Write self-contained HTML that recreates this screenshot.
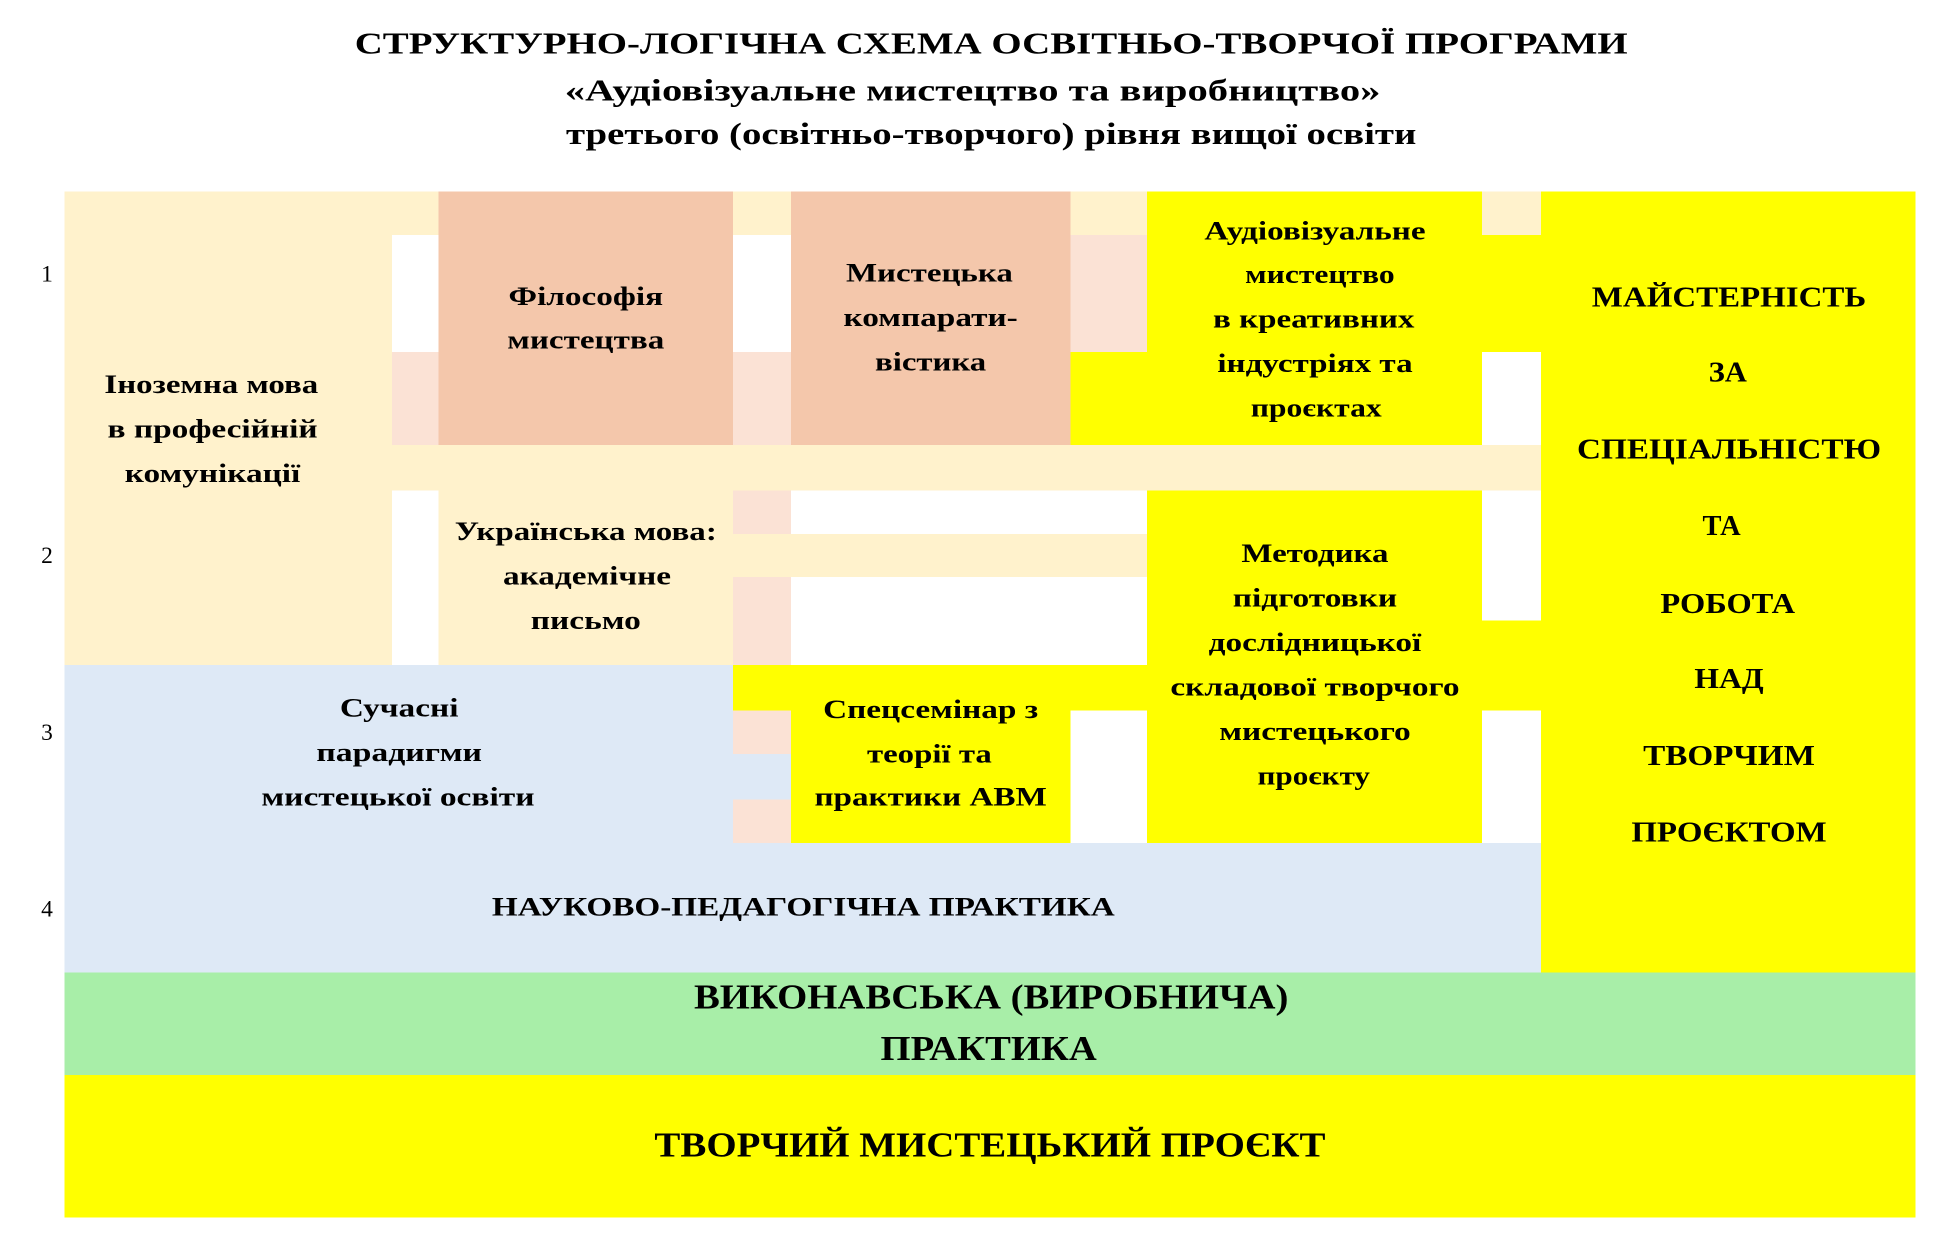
<!DOCTYPE html>
<html><head><meta charset="utf-8"><style>html,body{margin:0;padding:0;background:#fff}svg{display:block}</style></head>
<body>
<svg width="1937" height="1246" viewBox="0 0 1567.3 1008.2" preserveAspectRatio="none" xmlns="http://www.w3.org/2000/svg">
<rect width="1567.3" height="1008.2" fill="#fff"/>
<g shape-rendering="crispEdges">
<rect x="52" y="155" width="265" height="383" fill="#fff2cc"/>
<rect x="317" y="155" width="38" height="35" fill="#fff2cc"/>
<rect x="317" y="285" width="38" height="75" fill="#fbe2d5"/>
<rect x="317" y="360" width="930" height="37" fill="#fff2cc"/>
<rect x="355" y="155" width="238" height="205" fill="#f4c7ab"/>
<rect x="593" y="155" width="47" height="35" fill="#fff2cc"/>
<rect x="593" y="285" width="47" height="75" fill="#fbe2d5"/>
<rect x="593" y="397" width="47" height="35" fill="#fbe2d5"/>
<rect x="593" y="432" width="335" height="35" fill="#fff2cc"/>
<rect x="593" y="467" width="47" height="71" fill="#fbe2d5"/>
<rect x="640" y="155" width="226" height="205" fill="#f4c7ab"/>
<rect x="866" y="155" width="62" height="35" fill="#fff2cc"/>
<rect x="866" y="190" width="62" height="95" fill="#fbe2d5"/>
<rect x="866" y="285" width="62" height="75" fill="#ffff00"/>
<rect x="928" y="155" width="271" height="205" fill="#ffff00"/>
<rect x="1199" y="155" width="48" height="35" fill="#fff2cc"/>
<rect x="1199" y="190" width="48" height="95" fill="#ffff00"/>
<rect x="1199" y="502" width="48" height="73" fill="#ffff00"/>
<rect x="1247" y="155" width="303" height="632" fill="#ffff00"/>
<rect x="355" y="397" width="238" height="141" fill="#fff2cc"/>
<rect x="928" y="397" width="271" height="285" fill="#ffff00"/>
<rect x="52" y="538" width="541" height="144" fill="#dee9f6"/>
<rect x="593" y="538" width="335" height="37" fill="#ffff00"/>
<rect x="593" y="575" width="47" height="35" fill="#fbe2d5"/>
<rect x="593" y="610" width="47" height="37" fill="#dee9f6"/>
<rect x="593" y="647" width="47" height="35" fill="#fbe2d5"/>
<rect x="640" y="575" width="226" height="107" fill="#ffff00"/>
<rect x="52" y="682" width="1195" height="105" fill="#dee9f6"/>
<rect x="52" y="787" width="1498" height="83" fill="#a8eea8"/>
<rect x="52" y="870" width="1498" height="115" fill="#ffff00"/>
</g>
<g font-family="'Liberation Serif', serif" font-weight="bold" fill="#000" text-anchor="middle" dominant-baseline="central">
<text x="802" y="35" font-size="25" textLength="1030" lengthAdjust="spacingAndGlyphs">СТРУКТУРНО-ЛОГІЧНА СХЕМА ОСВІТНЬО-ТВОРЧОЇ ПРОГРАМИ</text>
<text x="787" y="73" font-size="25" textLength="660" lengthAdjust="spacingAndGlyphs">«Аудіовізуальне мистецтво та виробництво»</text>
<text x="802" y="108" font-size="25" textLength="688" lengthAdjust="spacingAndGlyphs">третього (освітньо-творчого) рівня вищої освіти</text>

<g font-size="21">
<text x="171" y="311" textLength="173" lengthAdjust="spacingAndGlyphs">Іноземна мова</text>
<text x="172" y="347" textLength="170" lengthAdjust="spacingAndGlyphs">в професійній</text>
<text x="172" y="383" textLength="142" lengthAdjust="spacingAndGlyphs">комунікації</text>
<text x="474" y="240" textLength="125" lengthAdjust="spacingAndGlyphs">Філософія</text>
<text x="474" y="275" textLength="127" lengthAdjust="spacingAndGlyphs">мистецтва</text>
<text x="752" y="221" textLength="135" lengthAdjust="spacingAndGlyphs">Мистецька</text>
<text x="753" y="257" textLength="141" lengthAdjust="spacingAndGlyphs">компарати-</text>
<text x="753" y="293" textLength="90" lengthAdjust="spacingAndGlyphs">вістика</text>
<text x="1064" y="187" textLength="179" lengthAdjust="spacingAndGlyphs">Аудіовізуальне</text>
<text x="1068" y="222" textLength="121" lengthAdjust="spacingAndGlyphs">мистецтво</text>
<text x="1063" y="258" textLength="163" lengthAdjust="spacingAndGlyphs">в креативних</text>
<text x="1064" y="294" textLength="158" lengthAdjust="spacingAndGlyphs">індустріях та</text>
<text x="1065" y="330" textLength="106" lengthAdjust="spacingAndGlyphs">проєктах</text>
<text x="474" y="430" textLength="212" lengthAdjust="spacingAndGlyphs">Українська мова:</text>
<text x="475" y="466" textLength="136" lengthAdjust="spacingAndGlyphs">академічне</text>
<text x="474" y="502" textLength="89" lengthAdjust="spacingAndGlyphs">письмо</text>
<text x="1064" y="448" textLength="119" lengthAdjust="spacingAndGlyphs">Методика</text>
<text x="1064" y="484" textLength="133" lengthAdjust="spacingAndGlyphs">підготовки</text>
<text x="1064" y="520" textLength="172" lengthAdjust="spacingAndGlyphs">дослідницької</text>
<text x="1064" y="556" textLength="234" lengthAdjust="spacingAndGlyphs">складової творчого</text>
<text x="1064" y="592" textLength="155" lengthAdjust="spacingAndGlyphs">мистецького</text>
<text x="1063" y="628" textLength="91" lengthAdjust="spacingAndGlyphs">проєкту</text>
<text x="323" y="573" textLength="96" lengthAdjust="spacingAndGlyphs">Сучасні</text>
<text x="323" y="609" textLength="134" lengthAdjust="spacingAndGlyphs">парадигми</text>
<text x="322" y="645" textLength="221" lengthAdjust="spacingAndGlyphs">мистецької освіти</text>
<text x="753" y="574" textLength="174" lengthAdjust="spacingAndGlyphs">Спецсемінар з</text>
<text x="752" y="610" textLength="101" lengthAdjust="spacingAndGlyphs">теорії та</text>
<text x="753" y="645" textLength="188" lengthAdjust="spacingAndGlyphs">практики АВМ</text>
<text x="650" y="734" textLength="504" lengthAdjust="spacingAndGlyphs">НАУКОВО-ПЕДАГОГІЧНА ПРАКТИКА</text>
</g>
<g font-size="23">
<text x="1399" y="241" textLength="222" lengthAdjust="spacingAndGlyphs">МАЙСТЕРНІСТЬ</text>
<text x="1398" y="302" textLength="31" lengthAdjust="spacingAndGlyphs">ЗА</text>
<text x="1399" y="364" textLength="246" lengthAdjust="spacingAndGlyphs">СПЕЦІАЛЬНІСТЮ</text>
<text x="1393" y="426">ТА</text>
<text x="1398" y="489" textLength="109" lengthAdjust="spacingAndGlyphs">РОБОТА</text>
<text x="1399" y="550" textLength="56" lengthAdjust="spacingAndGlyphs">НАД</text>
<text x="1399" y="612" textLength="139" lengthAdjust="spacingAndGlyphs">ТВОРЧИМ</text>
<text x="1399" y="674" textLength="158" lengthAdjust="spacingAndGlyphs">ПРОЄКТОМ</text>
</g>
<g font-size="28">
<text x="802" y="807" textLength="481" lengthAdjust="spacingAndGlyphs">ВИКОНАВСЬКА (ВИРОБНИЧА)</text>
<text x="800" y="849" textLength="175" lengthAdjust="spacingAndGlyphs">ПРАКТИКА</text>
<text x="801" y="927" textLength="543" lengthAdjust="spacingAndGlyphs">ТВОРЧИЙ МИСТЕЦЬКИЙ ПРОЄКТ</text>
</g>
</g>
<g font-family="'Liberation Serif', serif" font-size="19" fill="#000" text-anchor="middle" dominant-baseline="central">
<text x="38" y="222">1</text>
<text x="38" y="450">2</text>
<text x="38" y="593">3</text>
<text x="38" y="736">4</text>
</g>
</svg>
</body></html>
